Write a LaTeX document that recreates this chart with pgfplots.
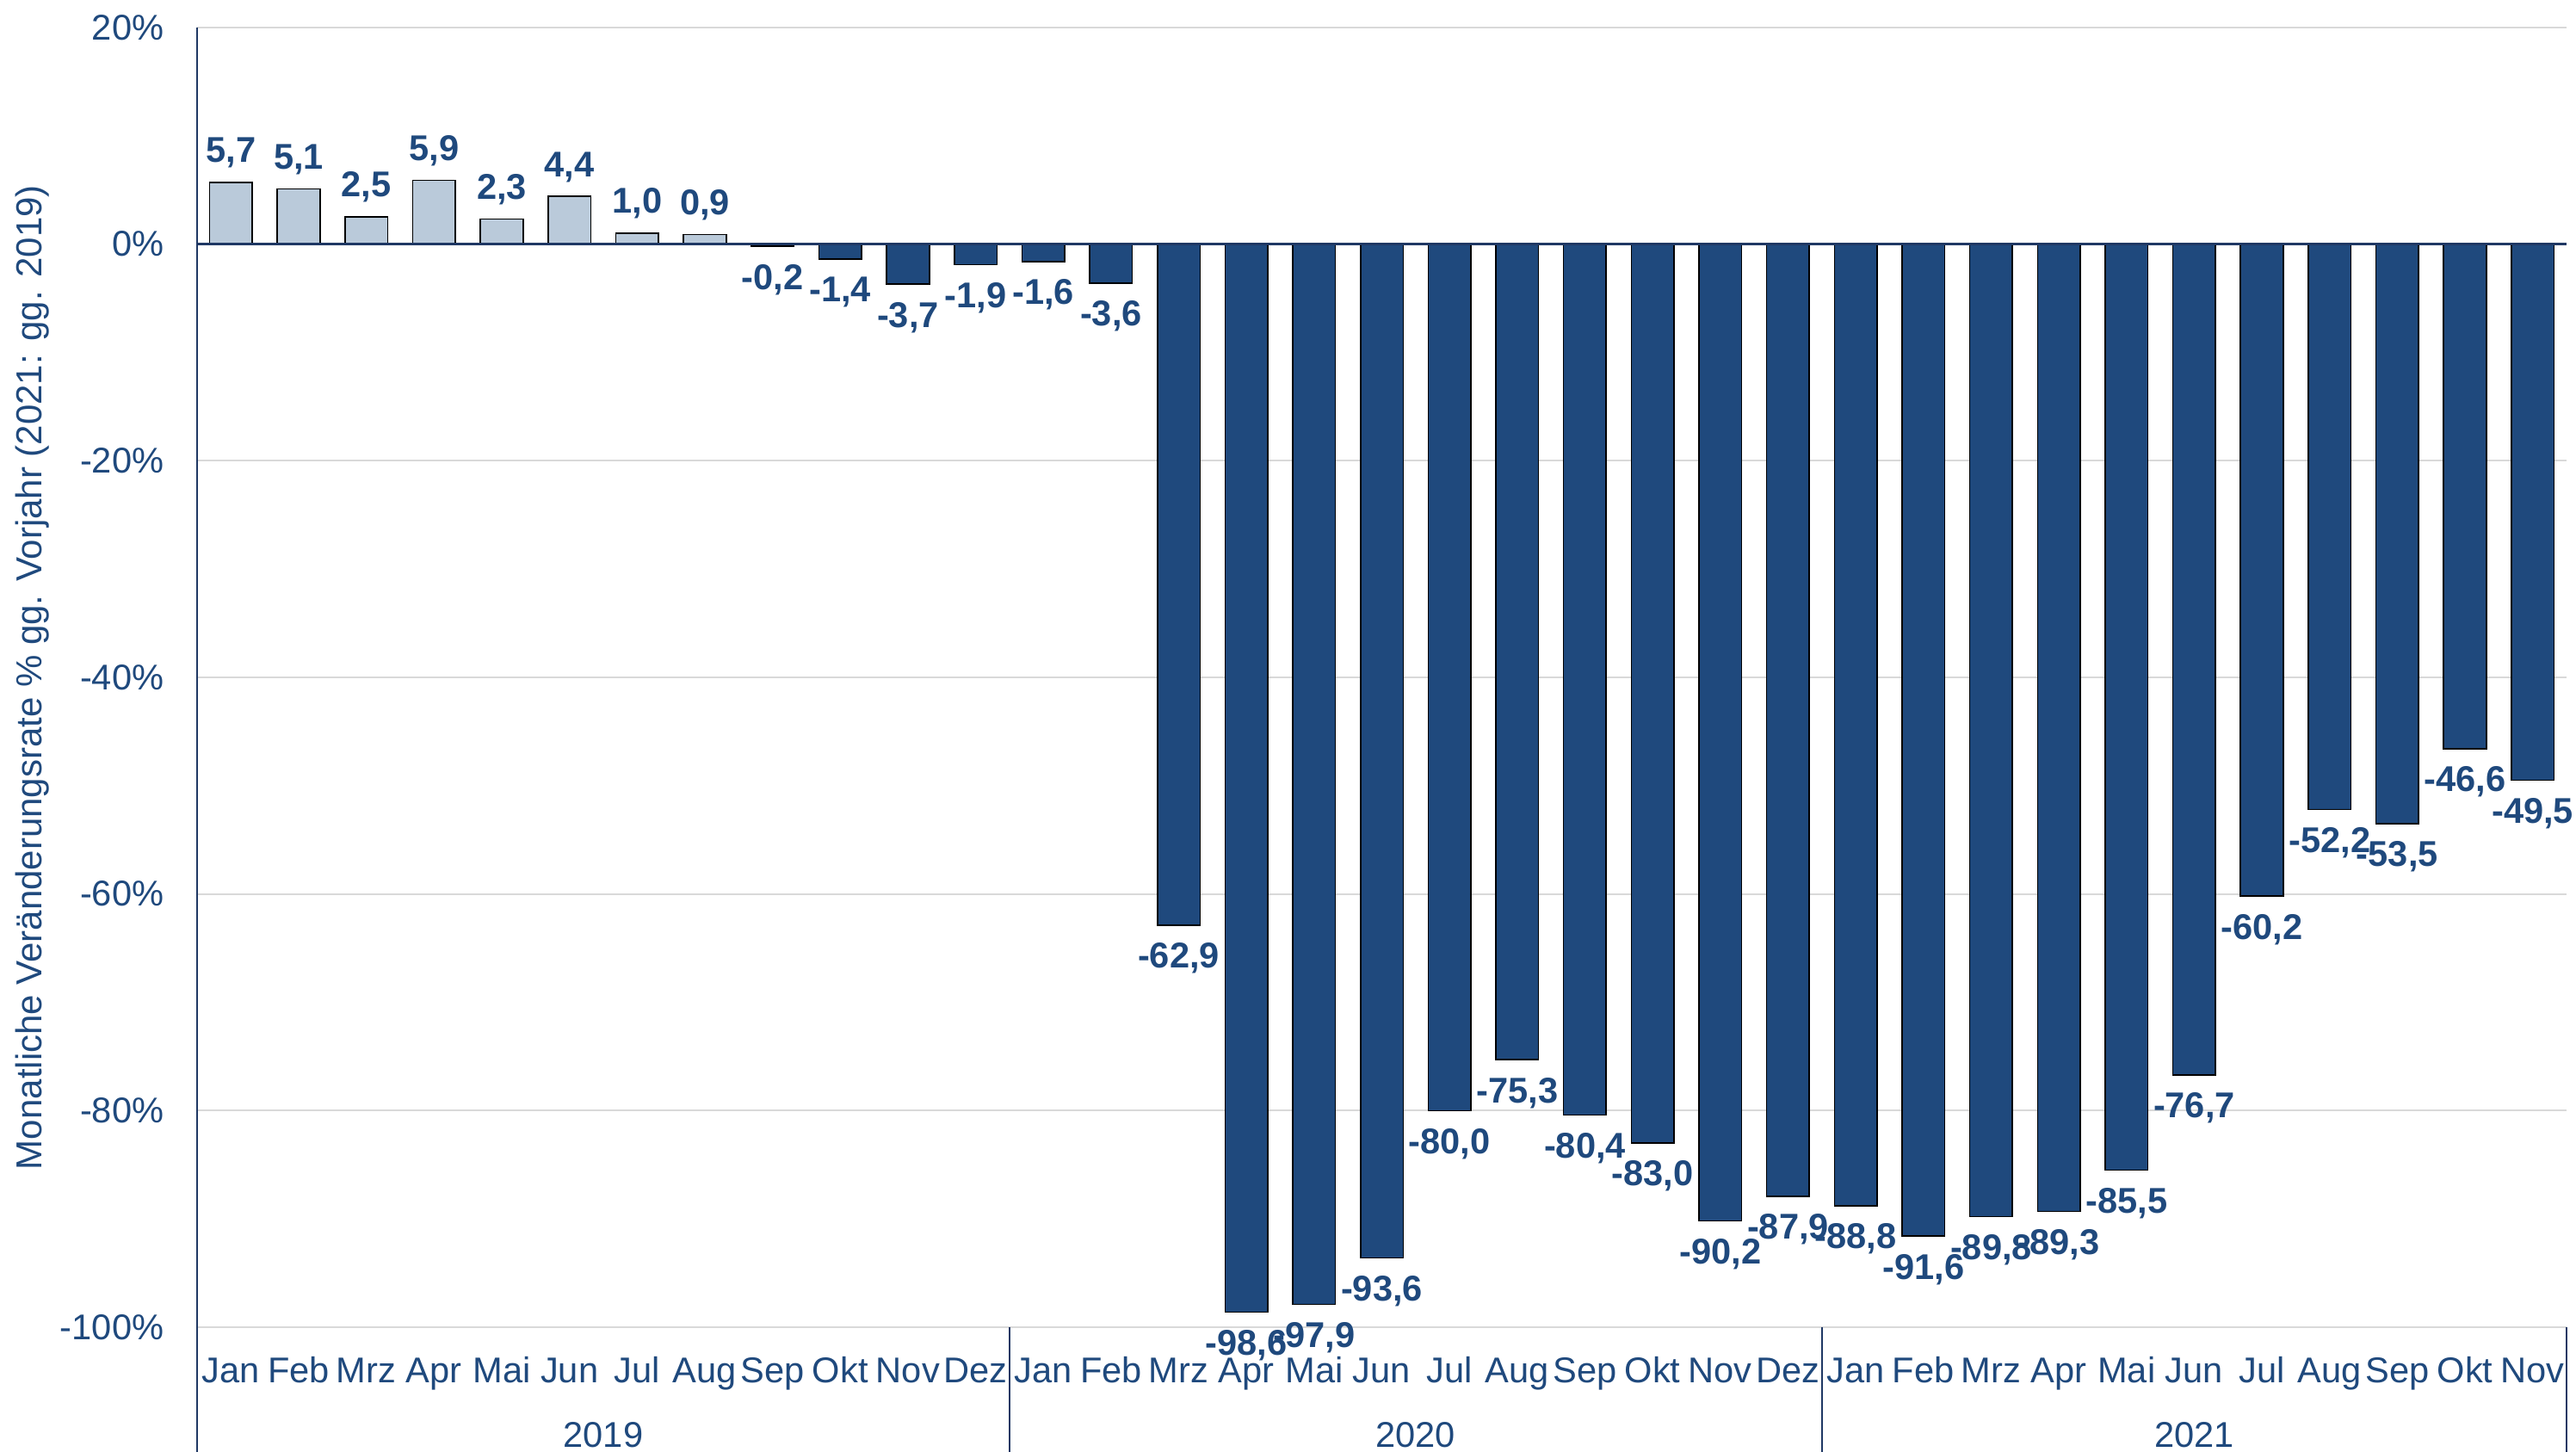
\documentclass[border=0pt]{standalone}
\usepackage{fontspec}
\setmainfont{Liberation Sans}
\usepackage{pgfplots}
\pgfplotsset{compat=1.18}
\definecolor{navy}{RGB}{31,73,125}
\definecolor{axnavy}{RGB}{31,56,100}
\definecolor{lightbar}{RGB}{186,202,218}
\definecolor{gridc}{RGB}{217,217,217}
\begin{document}
\begin{tikzpicture}
\useasboundingbox (0,0) rectangle (748.25pt,421.75pt);
\begin{axis}[
  at={(57.25pt,36.25pt)}, anchor=south west,
  scale only axis, width=688.25pt, height=377.5pt,
  xmin=-0.5, xmax=34.5, ymin=-100, ymax=20,
  ytick={-100,-80,-60,-40,-20,0,20},
  ymajorgrids, grid style={gridc, line width=0.5pt},
  major tick length=0pt,
  axis line style={draw=none},
  xtick={0,...,34},
  xticklabels={Jan,Feb,Mrz,Apr,Mai,Jun,Jul,Aug,Sep,Okt,Nov,Dez,Jan,Feb,Mrz,Apr,Mai,Jun,Jul,Aug,Sep,Okt,Nov,Dez,Jan,Feb,Mrz,Apr,Mai,Jun,Jul,Aug,Sep,Okt,Nov},
  xticklabel style={anchor=base, inner sep=0pt, yshift=-16.2pt, font=\fontsize{10.4}{12}\selectfont, text=navy},
  yticklabel={\pgfmathprintnumber{\tick}\%},
  yticklabel style={anchor=east, inner sep=0pt, xshift=-9.5pt, font=\fontsize{10.4}{12}\selectfont, text=navy},
  /pgf/number format/assume math mode=true,
  clip=false,
  ybar, bar width=12.4pt, bar shift=0pt,
  nodes near coords={\pgfmathprintnumber[fixed,fixed zerofill,precision=1,use comma]{\pgfplotspointmeta}},
  every node near coord/.append style={font=\fontsize{10.4}{12}\selectfont\bfseries, text=navy},
]
\addplot[draw=black, line width=0.4pt, fill=lightbar,
  every node near coord/.append style={anchor=south, inner sep=4pt}]
  coordinates {(0,5.7) (1,5.1) (2,2.5) (3,5.9) (4,2.3) (5,4.4) (6,1.0) (7,0.9)};
\addplot[draw=black, line width=0.4pt, fill=navy,
  every node near coord/.append style={anchor=north, inner sep=5pt}]
  coordinates {(8,-0.2) (9,-1.4) (10,-3.7) (11,-1.9)
  (12,-1.6) (13,-3.6) (14,-62.9) (15,-98.6) (16,-97.9) (17,-93.6) (18,-80.0) (19,-75.3) (20,-80.4) (21,-83.0) (22,-90.2) (23,-87.9)
  (24,-88.8) (25,-91.6) (26,-89.8) (27,-89.3) (28,-85.5) (29,-76.7) (30,-60.2) (31,-52.2) (32,-53.5) (33,-46.6) (34,-49.5)};
\draw[axnavy, line width=0.75pt] (axis cs:-0.5,0) -- (axis cs:34.5,0);
\draw[axnavy, line width=0.5pt] (axis cs:-0.5,20) -- ([yshift=-36.25pt]axis cs:-0.5,-100);
\draw[axnavy, line width=0.5pt] (axis cs:11.5,-100) -- ([yshift=-36.25pt]axis cs:11.5,-100);
\draw[axnavy, line width=0.5pt] (axis cs:23.5,-100) -- ([yshift=-36.25pt]axis cs:23.5,-100);
\draw[axnavy, line width=0.5pt] (axis cs:34.5,-100) -- ([yshift=-36.25pt]axis cs:34.5,-100);
\node[anchor=base, yshift=-35pt, text=navy, font=\fontsize{10.4}{12}\selectfont] at (axis cs:5.5,-100) {2019};
\node[anchor=base, yshift=-35pt, text=navy, font=\fontsize{10.4}{12}\selectfont] at (axis cs:17.5,-100) {2020};
\node[anchor=base, yshift=-35pt, text=navy, font=\fontsize{10.4}{12}\selectfont] at (axis cs:29,-100) {2021};
\node[rotate=90, text=navy, font=\fontsize{10.5}{12}\selectfont] at ([xshift=-47.75pt]rel axis cs:0,0.5) {Monatliche Veränderungsrate \% gg. Vorjahr (2021: gg. 2019)};
\end{axis}
\end{tikzpicture}
\end{document}
